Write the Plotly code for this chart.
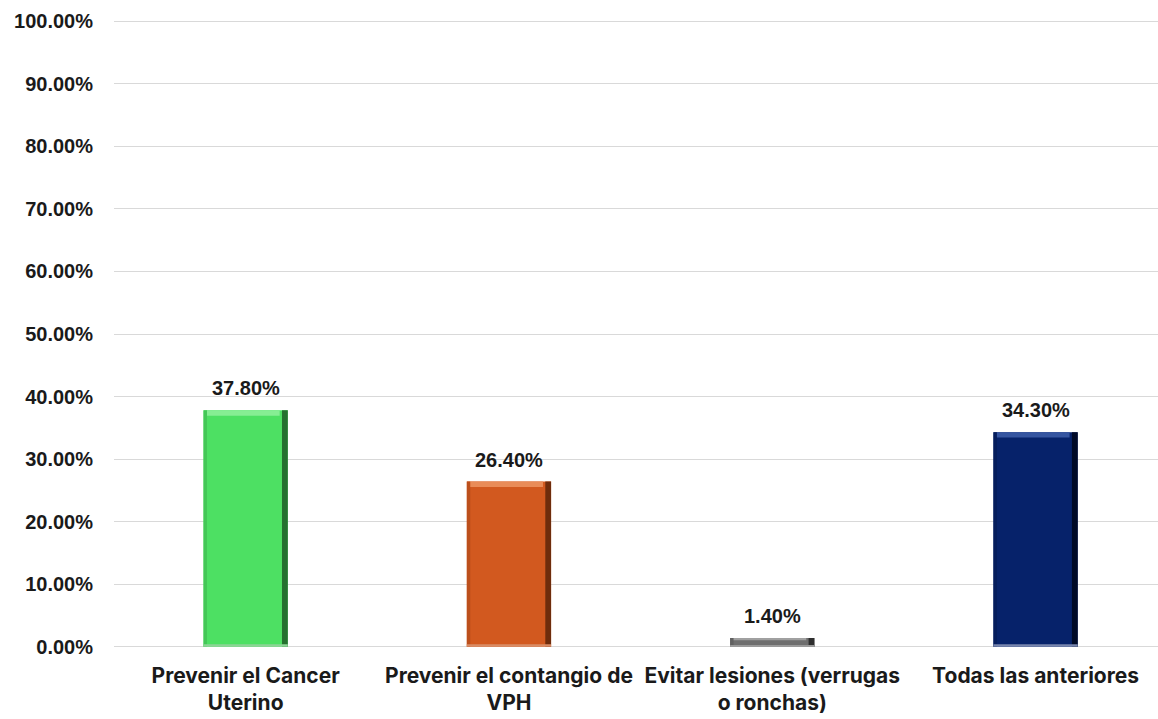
import plotly.graph_objects as go

# Survey answers and their shares (%)
categories = [
    "Prevenir el Cancer<br>Uterino",
    "Prevenir el contangio de<br>VPH",
    "Evitar lesiones (verrugas<br>o ronchas)",
    "Todas las anteriores",
]
values = [37.80, 26.40, 1.40, 34.30]
value_labels = ["37.80%", "26.40%", "1.40%", "34.30%"]
y_ticks = [0, 10, 20, 30, 40, 50, 60, 70, 80, 90, 100]
y_tick_text = [f"{t:.2f}%" for t in y_ticks]

# Bevel palette per bar: face, right shade, left shade, top highlight, bottom highlight
face = ["#4DE063", "#D2591F", "#6E6E6E", "#06226A"]
right_shade = ["#25702F", "#6E2C0C", "#2E2E2E", "#000A26"]
left_shade = ["#44C757", "#BC4F1B", "#616161", "#051D5C"]
top_light = ["#86EE93", "#E98C58", "#A0A0A0", "#3555A0"]
bottom_light = ["#8DD496", "#D98C66", "#9A9A9A", "#7886AE"]

BAR_W = 0.32
EDGE_X = 0.022      # bevel thickness across the bar (category units)
EDGE_Y = 0.85       # bevel thickness along the bar (percent units)

LABEL_FONT = "Liberation Sans, Arial"
INK = "#1a1a1a"

fig = go.Figure()
x = list(range(len(categories)))

# main face
fig.add_trace(go.Bar(
    x=x, y=values, width=BAR_W, marker=dict(color=face, line=dict(width=0)),
    hoverinfo="skip",
))

ey = [min(EDGE_Y, v / 4) for v in values]

# left and right side bevels
fig.add_trace(go.Bar(
    x=x, y=values, width=EDGE_X * 0.6, offset=-BAR_W / 2,
    marker=dict(color=left_shade, line=dict(width=0)), hoverinfo="skip",
))
fig.add_trace(go.Bar(
    x=x, y=values, width=EDGE_X, offset=BAR_W / 2 - EDGE_X,
    marker=dict(color=right_shade, line=dict(width=0)), hoverinfo="skip",
))
# top highlight
fig.add_trace(go.Bar(
    x=x, y=ey, base=[v - e for v, e in zip(values, ey)],
    width=BAR_W - 2 * EDGE_X, offset=-BAR_W / 2 + EDGE_X * 0.6,
    marker=dict(color=top_light, line=dict(width=0)), hoverinfo="skip",
))
# bottom highlight
fig.add_trace(go.Bar(
    x=x, y=[e * 0.45 for e in ey], base=[0] * len(values),
    width=BAR_W, offset=-BAR_W / 2,
    marker=dict(color=bottom_light, line=dict(width=0)), hoverinfo="skip",
))

# value labels above each bar
for xi, v, lab in zip(x, values, value_labels):
    fig.add_annotation(
        x=xi, y=v, text=lab, showarrow=False, yanchor="bottom",
        yshift=9, font=dict(family=LABEL_FONT, size=20, color=INK, weight="bold"),
    )

fig.update_layout(
    width=1158, height=719,
    margin=dict(l=114, r=0, t=20, b=71),
    paper_bgcolor="white", plot_bgcolor="white",
    barmode="overlay", showlegend=False,
    font=dict(family=LABEL_FONT, color=INK),
)
fig.update_yaxes(
    range=[-0.2, 100.2], tickvals=y_ticks, ticktext=y_tick_text,
    showgrid=True, gridcolor="#D9D9D9", gridwidth=1,
    zeroline=False, showline=False, ticks="",
    tickfont=dict(family=LABEL_FONT, size=20, color=INK, weight="bold"),
    ticklabelstandoff=20,
)
fig.update_xaxes(
    range=[-0.5, 3.465], tickvals=x, ticktext=categories,
    showgrid=False, zeroline=False, showline=False, ticks="",
    tickfont=dict(family="Inter", size=21, color=INK, weight="bold"),
    ticklabelstandoff=13,
)

fig.write_html("out.html")
